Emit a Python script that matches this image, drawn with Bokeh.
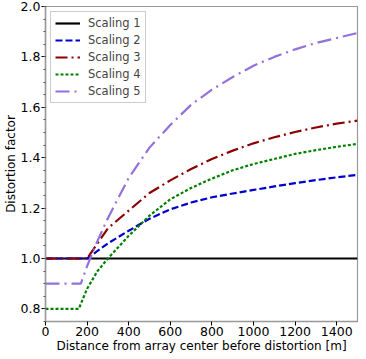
from bokeh.plotting import figure
from bokeh.models import Legend, LegendItem, FixedTicker, Range1d, NumeralTickFormatter
from bokeh.embed import file_html
from bokeh.resources import INLINE

x1 = [0, 1500]
s1 = [1.0, 1.0]

x2 = [0, 200, 300, 400, 500, 600, 700, 800, 900, 1000, 1100, 1200, 1300, 1400, 1500]
s2 = [1.0, 1.0, 1.06, 1.11, 1.158, 1.195, 1.222, 1.243, 1.258, 1.272, 1.286, 1.299, 1.311, 1.322, 1.332]

x3 = [0, 200, 300, 400, 500, 600, 700, 800, 900, 1000, 1100, 1200, 1300, 1400, 1500]
s3 = [1.0, 1.0, 1.12, 1.19, 1.26, 1.31, 1.355, 1.395, 1.428, 1.457, 1.481, 1.502, 1.52, 1.535, 1.547]

x4 = [0, 160, 200, 250, 300, 400, 500, 600, 700, 800, 900, 1000, 1100, 1200, 1300, 1400, 1500]
s4 = [0.8, 0.8, 0.88, 0.95, 1.0, 1.09, 1.17, 1.235, 1.28, 1.317, 1.35, 1.375, 1.395, 1.415, 1.43, 1.443, 1.455]

x5 = [0, 170, 200, 250, 300, 400, 500, 600, 700, 800, 900, 1000, 1100, 1200, 1300, 1400, 1500]
s5 = [0.9, 0.9, 0.97, 1.07, 1.16, 1.32, 1.44, 1.53, 1.61, 1.67, 1.72, 1.765, 1.80, 1.83, 1.855, 1.875, 1.895]

labels = ["Scaling 1", "Scaling 2", "Scaling 3", "Scaling 4", "Scaling 5"]
x_ticks = [0, 200, 400, 600, 800, 1000, 1200, 1400]
y_ticks = [0.8, 1.0, 1.2, 1.4, 1.6, 1.8, 2.0]

FONT = "DejaVu Sans"

p = figure(width=359, height=355, output_backend="svg", toolbar_location=None,
           x_range=Range1d(0, 1500), y_range=Range1d(0.75, 2.0),
           min_border_left=38, min_border_right=2, min_border_top=6, min_border_bottom=28)
p.grid.visible = False
p.outline_line_color = "#999999"
p.outline_line_width = 1.2

r1 = p.line(x1, s1, line_color="black", line_width=2.2)
r2 = p.line(x2, s2, line_color="#0000cc", line_width=2.2, line_dash="7 3")
r3 = p.line(x3, s3, line_color="#8b0000", line_width=2.2, line_dash="12 4 2 4")
r4 = p.line(x4, s4, line_color="#008000", line_width=2.2, line_dash="3 2")
r5 = p.line(x5, s5, line_color="#9370db", line_width=2.2, line_dash="14 5 2 5")

for ax in (p.xaxis[0], p.yaxis[0]):
    ax.axis_line_color = "#999999"
    ax.axis_line_width = 1.5
    ax.major_tick_line_color = "black"
    ax.minor_tick_line_color = "#555555"
    ax.major_tick_out = 4
    ax.major_tick_in = 0
    ax.major_label_standoff = 1
    ax.axis_label_standoff = 0
    ax.major_label_text_font = FONT
    ax.major_label_text_font_size = "12.5px"
    ax.axis_label_text_font = FONT
    ax.axis_label_text_font_size = "12px"
    ax.axis_label_text_font_style = "normal"
    ax.major_label_text_color = "black"
    ax.axis_label_text_color = "black"

p.xaxis[0].ticker = FixedTicker(ticks=x_ticks)
p.xaxis[0].minor_tick_out = 0
p.yaxis[0].ticker = FixedTicker(ticks=y_ticks,
                                minor_ticks=[0.75 + 0.05 * i for i in range(26)])
p.yaxis[0].formatter = NumeralTickFormatter(format="0.0")
p.yaxis[0].minor_tick_out = 2
p.yaxis[0].minor_tick_in = 0
p.xaxis[0].axis_label = "Distance from array center before distortion [m]"
p.yaxis[0].axis_label = "Distortion factor"

legend = Legend(items=[LegendItem(label=l, renderers=[r]) for l, r in zip(labels, [r1, r2, r3, r4, r5])],
                location="top_left")
legend.label_text_font = FONT
legend.label_text_font_size = "11.5px"
legend.label_height = 12
legend.glyph_height = 12
legend.glyph_width = 25
legend.spacing = 3
legend.padding = 4
legend.margin = 5
legend.label_standoff = 8
legend.border_line_color = "#cccccc"
legend.border_line_alpha = 1
legend.background_fill_alpha = 0.8
p.add_layout(legend)

open("out.html", "w").write(file_html(p, INLINE))
